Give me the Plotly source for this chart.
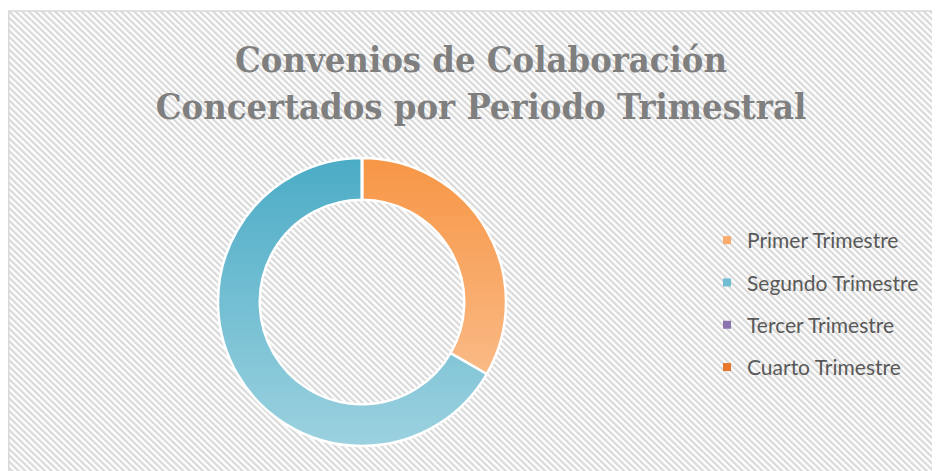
import urllib.parse
import plotly.graph_objects as go

# ---- data ----
categories = ["Primer Trimestre", "Segundo Trimestre", "Tercer Trimestre", "Cuarto Trimestre"]
values = [3, 6, 0, 0]
slice_colors = ["#F79646", "#4BACC6", "#8064A2", "#E46C0A"]
legend_colors = ["#F9AB6E", "#6EBDD2", "#8C72AE", "#E9772A"]
title_lines = ["Convenios de Colaboración", "Concertados por Periodo Trimestral"]

W, H = 940, 471
OFF = 8  # page body margin
HOLE = 0.71
PIE_LEFT, PIE_TOP, PIE_SIZE = 218, 158, 288


def px_x(v):
    return (v - OFF) / W


def px_y(v):
    return 1 - (v - OFF) / H


def uri(svg):
    return "data:image/svg+xml;charset=utf-8," + urllib.parse.quote(svg)


hatch_svg = (
    "<svg xmlns='http://www.w3.org/2000/svg' width='1000' height='520'>"
    "<defs><pattern id='p' width='4.5' height='4.5' patternUnits='userSpaceOnUse' patternTransform='rotate(-45)'>"
    "<rect width='4.5' height='4.5' fill='#FFFFFF'/><rect width='2.2' height='4.5' fill='#D9D9D9'/>"
    "</pattern></defs><rect width='1000' height='520' fill='url(#p)'/></svg>"
)

# soft vertical light-gradient over the ring (imitates the gradient fill)
R = PIE_SIZE / 2
r = R * HOLE
ring_svg = (
    f"<svg xmlns='http://www.w3.org/2000/svg' width='{PIE_SIZE}' height='{PIE_SIZE}' viewBox='0 0 {PIE_SIZE} {PIE_SIZE}'>"
    "<defs><linearGradient id='g' x1='0' y1='0' x2='0' y2='1'>"
    "<stop offset='0' stop-color='#FFFFFF' stop-opacity='0'/>"
    "<stop offset='1' stop-color='#FFFFFF' stop-opacity='0.45'/>"
    "</linearGradient></defs>"
    f"<path fill-rule='evenodd' fill='url(#g)' d='M 0 {R} A {R} {R} 0 1 0 {2*R} {R} A {R} {R} 0 1 0 0 {R} Z "
    f"M {R-r} {R} A {r} {r} 0 1 0 {R+r} {R} A {r} {r} 0 1 0 {R-r} {R} Z'/></svg>"
)

fig = go.Figure()

fig.add_trace(go.Pie(
    labels=categories,
    values=values,
    hole=HOLE,
    sort=False,
    direction="clockwise",
    rotation=0,
    marker=dict(colors=slice_colors, line=dict(color="#FFFFFF", width=2.5)),
    textinfo="none",
    showlegend=False,
    domain=dict(x=[px_x(PIE_LEFT), px_x(PIE_LEFT + PIE_SIZE)],
                y=[px_y(PIE_TOP + PIE_SIZE), px_y(PIE_TOP)]),
))

for name, c in zip(categories, legend_colors):
    fig.add_trace(go.Scatter(
        x=[None], y=[None], mode="markers", name=name, legendgroup=name,
        marker=dict(symbol="square", size=8, color=c),
        showlegend=True, hoverinfo="skip",
    ))

fig.update_layout(
    width=W, height=H,
    margin=dict(l=0, r=0, t=0, b=0),
    paper_bgcolor="#FFFFFF",
    plot_bgcolor="rgba(0,0,0,0)",
    xaxis=dict(visible=False),
    yaxis=dict(visible=False),
    title=dict(
        text="<b>" + "<br>".join(title_lines) + "</b>",
        x=px_x(481), xanchor="center",
        y=px_y(72), yanchor="top",
        font=dict(family="DejaVu Serif Condensed, Liberation Serif, serif", size=36, color="#7F7F7F"),
    ),
    legend=dict(
        x=px_x(707), xanchor="left",
        y=px_y(220), yanchor="top",
        font=dict(family="Lato, Open Sans, sans-serif", size=21, color="#595959"),
        bgcolor="rgba(0,0,0,0)",
        tracegroupgap=12,
        itemwidth=30,
    ),
    images=[
        dict(
            source=uri(hatch_svg), xref="paper", yref="paper",
            x=px_x(7), y=px_y(11), sizex=1.1, sizey=1.1,
            xanchor="left", yanchor="top", sizing="stretch", layer="below",
        ),
        dict(
            source=uri(ring_svg), xref="paper", yref="paper",
            x=px_x(PIE_LEFT), y=px_y(PIE_TOP), sizex=PIE_SIZE / W, sizey=PIE_SIZE / H,
            xanchor="left", yanchor="top", sizing="stretch", layer="above",
        ),
    ],
    shapes=[dict(
        type="rect", xref="paper", yref="paper",
        x0=px_x(8.8), x1=1.05, y0=-0.05, y1=px_y(11),
        line=dict(color="#D9D9D9", width=1.5), layer="below",
    )],
)

fig.write_html("out.html")
